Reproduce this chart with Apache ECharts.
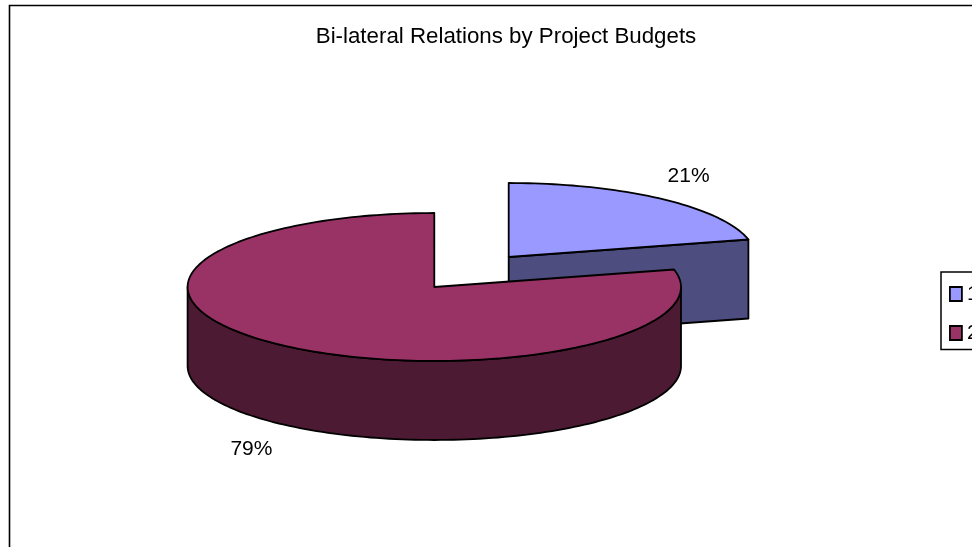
<!DOCTYPE html>
<html>
<head>
<meta charset="utf-8">
<style>html,body{margin:0;padding:0;background:#fff;overflow:hidden}#c{width:972px;height:547px}</style>
<script src="https://cdn.jsdelivr.net/npm/echarts@6/dist/echarts.min.js"></script>
</head>
<body>
<div id="c"></div>
<script>
var titleText = 'Bi-lateral Relations by Project Budgets';
var categories = ['1', '2'];
var shares = [21.2, 78.8];
var topColors = ['#9999FF', '#993366'];
var sideColors = ['#4D4D80', '#4D1A33'];

var centers = [[508.7, 257], [434.3, 287]];
var RX = 246.7, RY = 74, DEPTH = 79;
var FONT = '"Liberation Sans", Arial, sans-serif';
var total = shares.reduce(function (a, b) { return a + b; }, 0);

function pt(c, deg, dy) {
  var r = deg * Math.PI / 180;
  return [c[0] + RX * Math.sin(r), c[1] - RY * Math.cos(r) + (dy || 0)];
}
function arc(c, a0, a1, dy) {
  var pts = [], n = Math.max(2, Math.ceil(Math.abs(a1 - a0) / 1.5));
  for (var i = 0; i <= n; i++) pts.push(pt(c, a0 + (a1 - a0) * i / n, dy));
  return pts;
}
function poly(points, fill) {
  return { type: 'polygon', shape: { points: points },
    style: { fill: fill, stroke: '#000', lineWidth: 1.8, lineJoin: 'round' } };
}
function renderSlice(index) {
  return function (params, api) {
    var value = api.value(0);
    var before = 0;
    for (var k = 0; k < index; k++) before += shares[k];
    var a0 = before / total * 360, a1 = (before + value) / total * 360;
    var c = centers[index], kids = [];
    // cut face at the end of the slice, when it faces the viewer
    if (Math.sin(a1 * Math.PI / 180) > 0.001) {
      var e = pt(c, a1);
      kids.push(poly([c, e, [e[0], e[1] + DEPTH], [c[0], c[1] + DEPTH]], sideColors[index]));
    }
    // outer wall: the front half of the rim
    var w0 = Math.max(a0, 90), w1 = Math.min(a1, 270);
    if (w1 > w0) {
      kids.push(poly(arc(c, w0, w1, 0).concat(arc(c, w1, w0, DEPTH)), sideColors[index]));
    }
    // top face
    kids.push(poly([c].concat(arc(c, a0, a1, 0)), topColors[index]));
    // percentage label
    var mid = (a0 + a1) / 2, rad = mid * Math.PI / 180, front = Math.cos(rad) < 0;
    kids.push({ type: 'text', z2: 10, style: {
      x: c[0] + RX * 1.19 * Math.sin(rad) - 1.5,
      y: c[1] - RY * 1.22 * Math.cos(rad) + (front ? DEPTH + 12 : -10),
      text: Math.round(value / total * 100) + '%',
      font: '21px ' + FONT, fill: '#000', align: 'center', verticalAlign: 'middle'
    } });
    return { type: 'group', children: kids };
  };
}

var chart = echarts.init(document.getElementById('c'), null, { renderer: 'canvas' });
chart.setOption({
  animation: false,
  backgroundColor: '#fff',
  title: {
    text: titleText, left: 501, top: 21, textAlign: 'center',
    textStyle: { fontFamily: FONT, fontSize: 22.3, fontWeight: 'normal', color: '#000' }
  },
  legend: {
    data: categories, orient: 'vertical', left: 941, top: 272,
    padding: [11.5, 8, 6, 8], itemWidth: 12, itemHeight: 14, itemGap: 18,
    borderColor: '#000', borderWidth: 1.5, backgroundColor: '#fff',
    icon: 'rect', selectedMode: false,
    itemStyle: { borderColor: '#000', borderWidth: 1.8 },
    textStyle: { fontFamily: FONT, fontSize: 21, color: '#000' }
  },
  graphic: [{
    type: 'rect', silent: true, z: -1,
    shape: { x: 9.5, y: 5.5, width: 1000, height: 600 },
    style: { fill: 'none', stroke: '#000', lineWidth: 1.6 }
  }],
  series: categories.map(function (name, i) {
    return {
      type: 'custom', name: name, coordinateSystem: 'none', z: 2 + i,
      data: [[shares[i]]],
      itemStyle: { color: topColors[i] },
      renderItem: renderSlice(i)
    };
  })
});
</script>
</body>
</html>
